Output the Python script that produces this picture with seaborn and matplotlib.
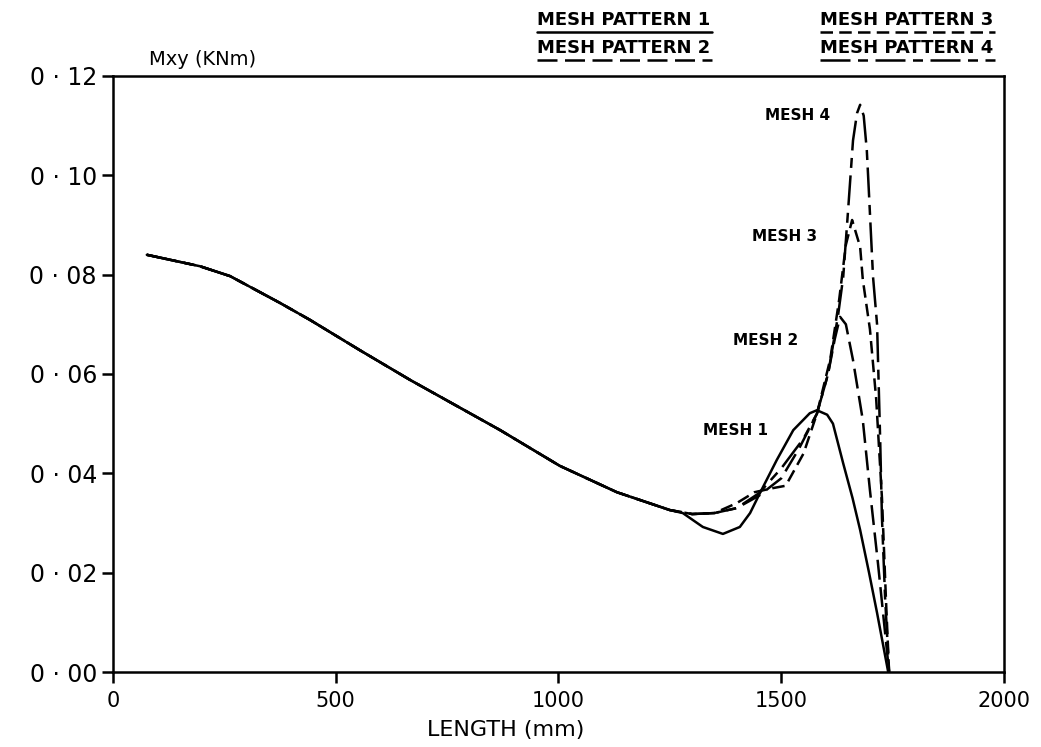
import numpy as np
import pandas as pd
import matplotlib
matplotlib.use("Agg")
import matplotlib.pyplot as plt
from matplotlib.lines import Line2D
from matplotlib.ticker import FuncFormatter
import seaborn as sns

# shared part of the curves (all meshes agree here)
base_x = [76, 195, 263, 375, 442, 554, 667, 779, 869, 1003, 1131, 1250]
base_y = [0.0840, 0.0817, 0.0797, 0.0743, 0.0709, 0.0648, 0.0588, 0.0532, 0.0487, 0.0415, 0.0362, 0.0326]

# tails of each mesh
mesh1_x = [1279, 1324, 1369, 1407, 1430, 1452, 1490, 1527, 1564, 1580, 1603, 1616, 1639, 1660, 1677, 1697, 1715, 1740]
mesh1_y = [0.0320, 0.0292, 0.0278, 0.0292, 0.0320, 0.0360, 0.0427, 0.0487, 0.0521, 0.0527, 0.0518, 0.0500, 0.0420, 0.0350, 0.0286, 0.0200, 0.0119, 0.0]

mesh2_x = [1300, 1350, 1400, 1450, 1500, 1540, 1580, 1605, 1620, 1632, 1645, 1661, 1683, 1699, 1717, 1737, 1742]
mesh2_y = [0.0318, 0.0320, 0.0330, 0.0355, 0.0390, 0.0450, 0.0520, 0.0600, 0.0670, 0.0715, 0.0700, 0.0628, 0.0507, 0.0366, 0.0219, 0.0044, 0.0]

mesh3_x = [1300, 1350, 1400, 1440, 1480, 1510, 1550, 1580, 1610, 1630, 1645, 1659, 1677, 1683, 1699, 1713, 1726, 1735, 1742]
mesh3_y = [0.0318, 0.0320, 0.0340, 0.0362, 0.0370, 0.0375, 0.0440, 0.0520, 0.0630, 0.0750, 0.0860, 0.0910, 0.0856, 0.0790, 0.0690, 0.0550, 0.0350, 0.0145, 0.0]

mesh4_x = [1300, 1350, 1400, 1450, 1500, 1550, 1580, 1605, 1627, 1639, 1650, 1661, 1670, 1677, 1685, 1692, 1695, 1706, 1715, 1722, 1726, 1733, 1742]
mesh4_y = [0.0318, 0.0320, 0.0330, 0.0360, 0.0410, 0.0470, 0.0520, 0.0600, 0.0715, 0.0795, 0.0930, 0.1070, 0.1125, 0.1142, 0.1120, 0.1050, 0.0997, 0.0795, 0.0700, 0.0467, 0.0310, 0.0150, 0.0]

mesh_names = ["MESH 1", "MESH 2", "MESH 3", "MESH 4"]
label_x = [1324, 1392, 1434, 1463]
label_y = [0.0487, 0.0668, 0.0876, 0.1121]

x_ticks = [0, 500, 1000, 1500, 2000]
y_ticks = [0.0, 0.02, 0.04, 0.06, 0.08, 0.10, 0.12]

tails = [(mesh1_x, mesh1_y), (mesh2_x, mesh2_y), (mesh3_x, mesh3_y), (mesh4_x, mesh4_y)]
frames = []
for name, (tx, ty) in zip(mesh_names, tails):
    frames.append(pd.DataFrame({"length": base_x + tx, "mxy": base_y + ty, "mesh": name}))
df = pd.concat(frames, ignore_index=True)

sns.set_style("ticks")
plt.rcParams["font.family"] = ["DejaVu Sans"]
plt.rcParams["text.color"] = "black"
plt.rcParams["axes.labelcolor"] = "black"

dash_styles = ["", (8, 3), (5, 2.5), (12, 3, 4, 3)]

fig = plt.figure(figsize=(10.41, 7.47), dpi=100)
ax = fig.add_axes([0.1085, 0.1004, 0.856, 0.7979])

sns.lineplot(data=df, x="length", y="mxy", style="mesh", dashes=dash_styles,
             color="black", sort=False, estimator=None, linewidth=1.8,
             legend=False, ax=ax)

ax.set_xlim(0, 2000)
ax.set_ylim(0, 0.12)
ax.set_xticks(x_ticks)
ax.set_yticks(y_ticks)
ax.yaxis.set_major_formatter(FuncFormatter(lambda v, p: f"0 · {int(round(v * 100)):02d}"))
ax.tick_params(direction="out", length=8, width=1.8, labelsize=15, colors="black")
ax.tick_params(axis="y", labelsize=17)
ax.tick_params(axis="x", pad=6)
for s in ax.spines.values():
    s.set_linewidth(1.8)
    s.set_color("black")

ax.set_xlabel("LENGTH (mm)", fontsize=16)
ax.xaxis.set_label_coords(0.441, -0.08)
ax.set_ylabel("")
ax.text(0.04, 1.012, "Mxy (KNm)", transform=ax.transAxes, fontsize=14, va="bottom", ha="left")

for name, lx, ly in zip(mesh_names, label_x, label_y):
    ax.text(lx, ly, name, fontsize=11, fontweight="bold", va="center", ha="left")

# header key: text with the line pattern drawn underneath
header = [
    ("MESH PATTERN 1", 0.516, 0.973, ""),
    ("MESH PATTERN 2", 0.516, 0.936, (8, 3)),
    ("MESH PATTERN 3", 0.788, 0.973, (5, 2.5)),
    ("MESH PATTERN 4", 0.788, 0.936, (12, 3, 4, 3)),
]
for txt, hx, hy, dsh in header:
    fig.text(hx, hy, txt, fontsize=13, fontweight="bold", ha="left", va="center")
    ln = Line2D([hx, hx + 0.168], [hy - 0.0165, hy - 0.0165], transform=fig.transFigure,
                color="black", linewidth=1.8)
    if dsh:
        ln.set_dashes(dsh)
    fig.add_artist(ln)

fig.savefig("out.png", dpi=100)
